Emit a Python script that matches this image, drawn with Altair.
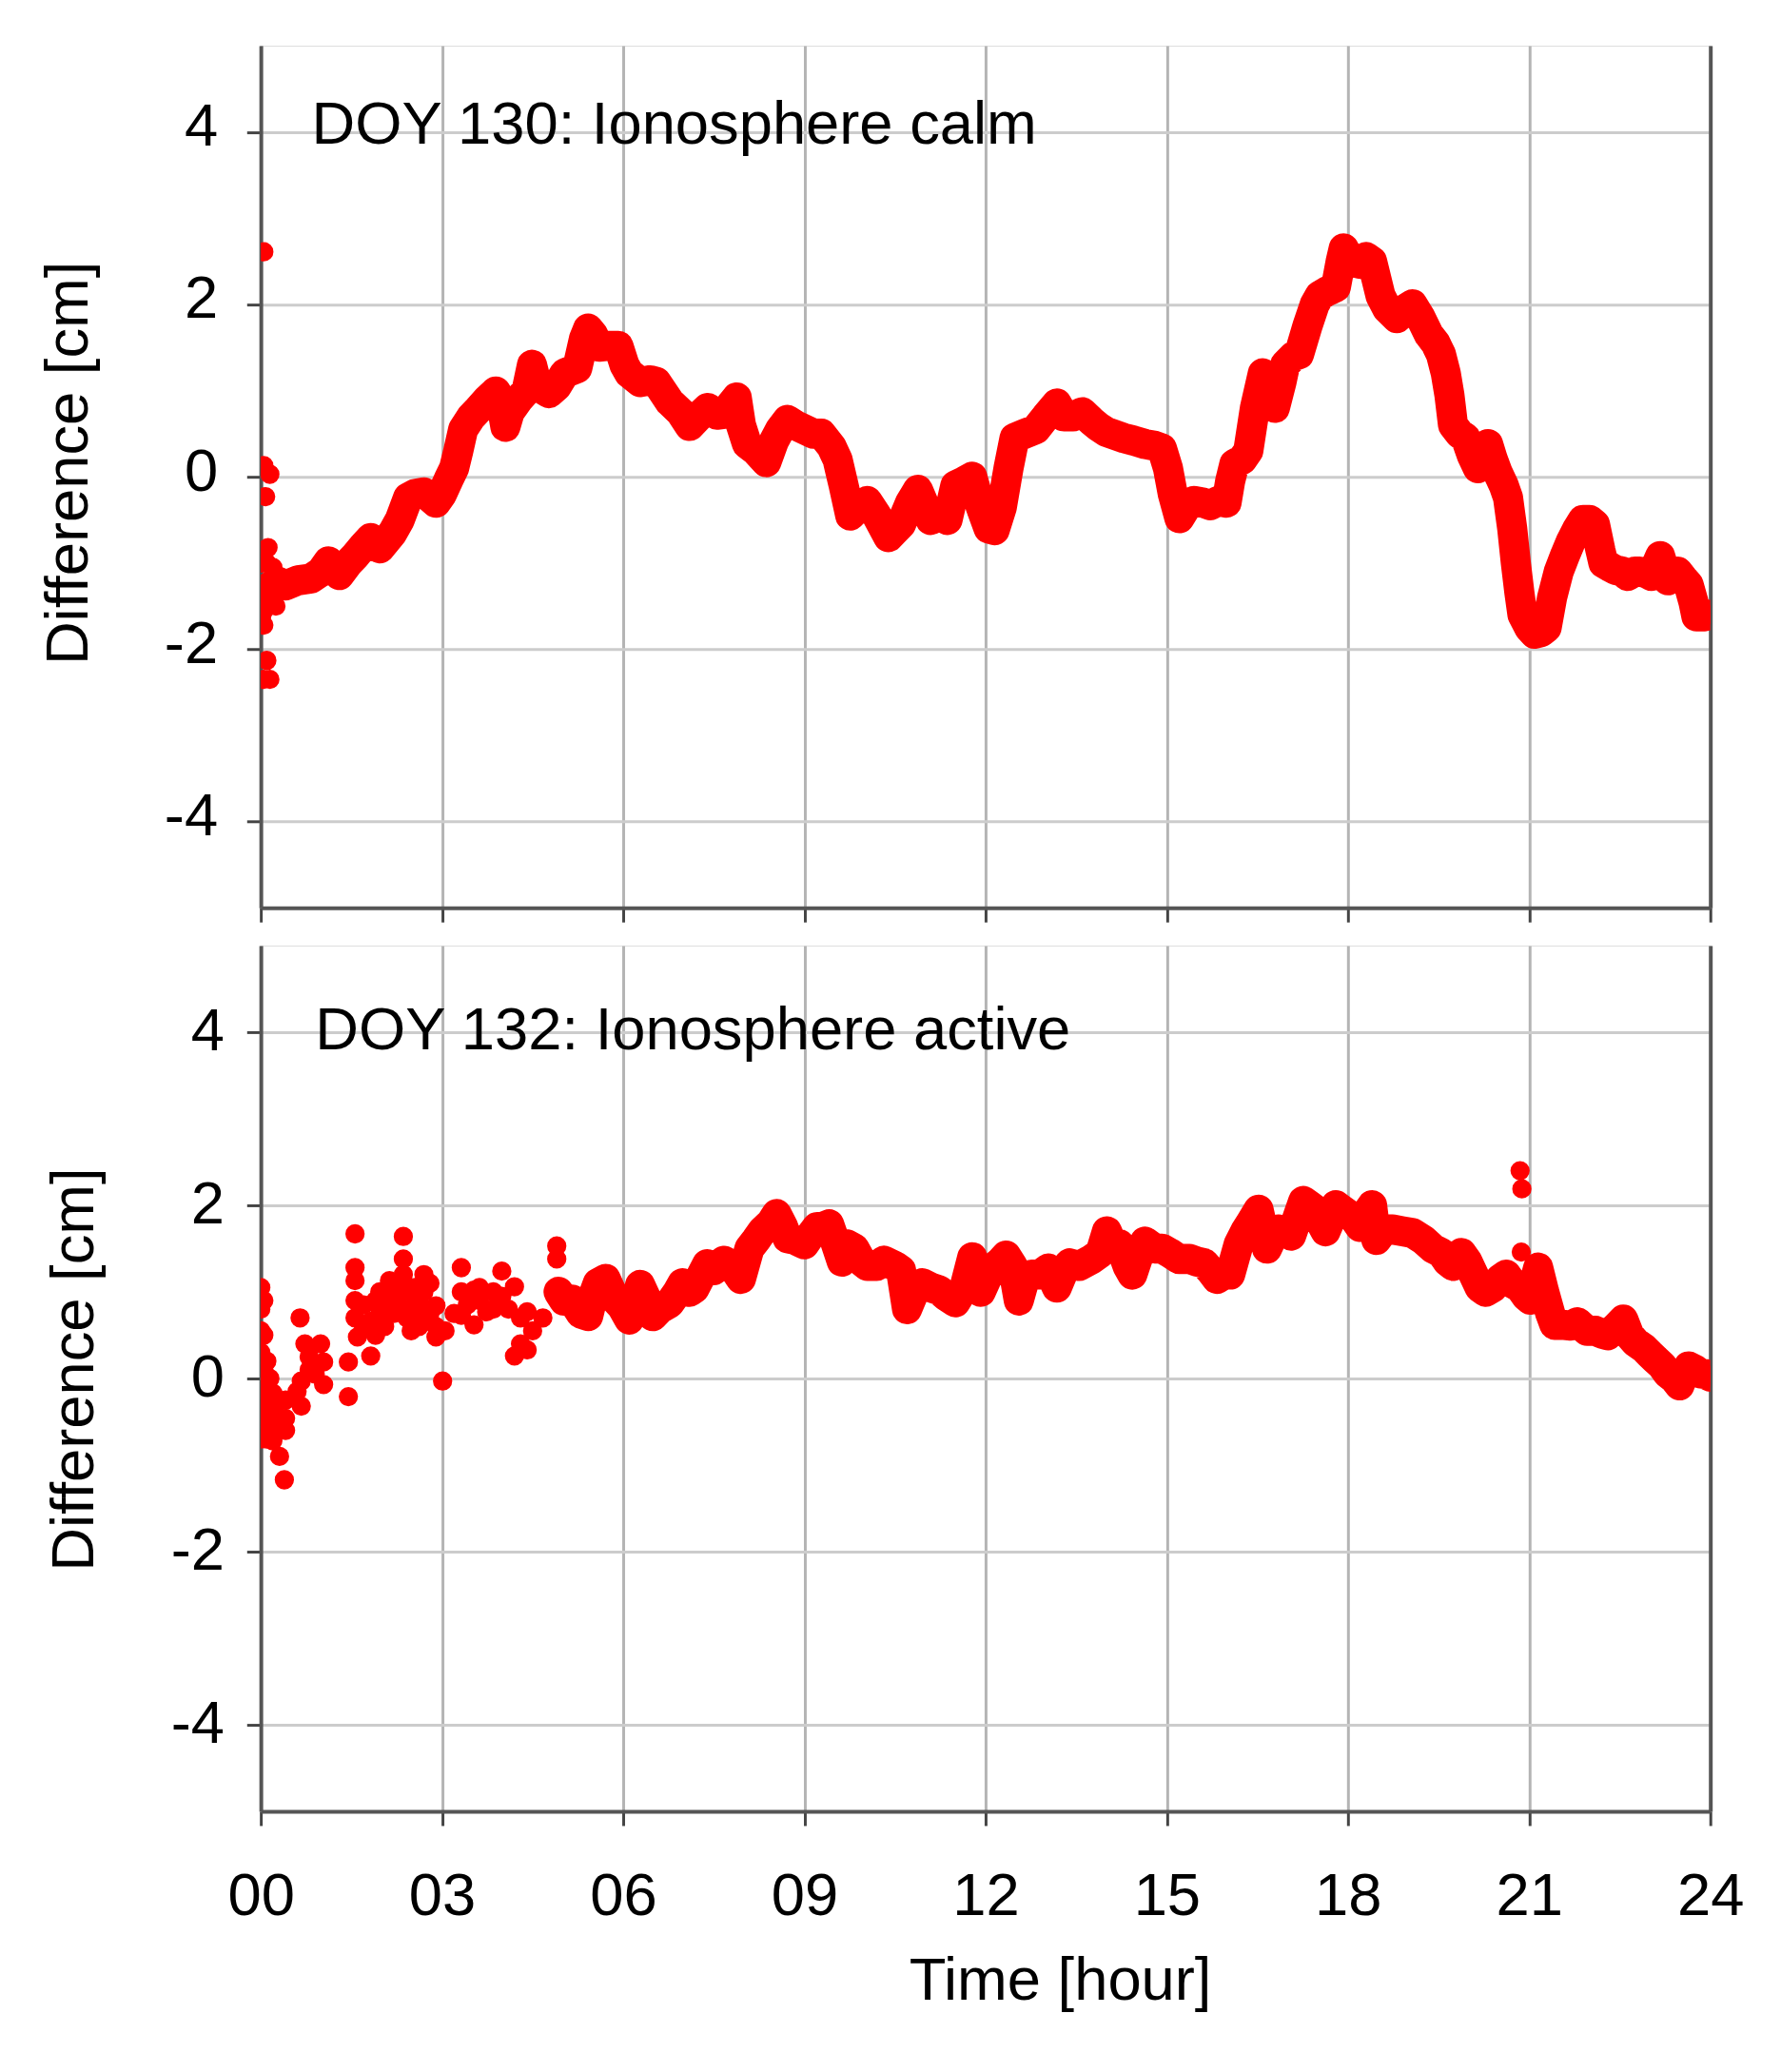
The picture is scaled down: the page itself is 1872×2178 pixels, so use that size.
import altair as alt
import pandas as pd

FONT = "Liberation Sans, Arial, sans-serif"
RED = "#ff0000"

X_TICKS = [0, 3, 6, 9, 12, 15, 18, 21, 24]
Y_TICKS = [-4, -2, 0, 2, 4]

# ---------------- DOY 130 (calm) ----------------
TOP_T = [0.0, 0.1, 0.2, 0.3, 0.41, 0.62, 0.83, 1.0, 1.12, 1.3, 1.45, 1.56, 1.7, 1.82, 1.97,
         2.18, 2.3, 2.44, 2.55, 2.7, 2.9, 3.0, 3.11, 3.2, 3.27, 3.35, 3.48, 3.6, 3.74, 3.89,
         3.97, 4.05, 4.12, 4.26, 4.4, 4.49, 4.58, 4.77, 4.9, 5.03, 5.24, 5.35, 5.42, 5.5, 5.6,
         5.75, 5.92, 6.02, 6.1, 6.28, 6.45, 6.55, 6.77, 6.95, 7.1, 7.25, 7.4, 7.55, 7.67, 7.8,
         7.88, 7.95, 8.05, 8.2, 8.37, 8.5, 8.6, 8.72, 8.85, 9.0, 9.15, 9.28, 9.45, 9.55, 9.65,
         9.76, 9.9, 10.04, 10.2, 10.39, 10.5, 10.6, 10.75, 10.88, 11.0, 11.09, 11.25, 11.37,
         11.5, 11.65, 11.78, 11.92, 12.05, 12.15, 12.27, 12.38, 12.48, 12.65, 12.83, 13.0,
         13.18, 13.3, 13.45, 13.6, 13.75, 13.87, 14.0, 14.29, 14.45, 14.64, 14.8, 14.92, 15.02,
         15.1, 15.21, 15.35, 15.45, 15.6, 15.72, 15.85, 15.99, 16.05, 16.12, 16.25, 16.35,
         16.46, 16.59, 16.7, 16.79, 16.9, 16.96, 17.1, 17.19, 17.33, 17.45, 17.53, 17.65, 17.8,
         17.88, 17.93, 18.05, 18.2, 18.3, 18.4, 18.54, 18.65, 18.81, 18.95, 19.07, 19.2, 19.34,
         19.45, 19.54, 19.62, 19.68, 19.74, 19.85, 19.95, 20.05, 20.15, 20.25, 20.32, 20.4,
         20.48, 20.58, 20.65, 20.72, 20.78, 20.84, 20.89, 21.0, 21.09, 21.2, 21.29, 21.38,
         21.49, 21.6, 21.69, 21.8, 21.89, 22.0, 22.09, 22.18, 22.23, 22.35, 22.43, 22.55, 22.63,
         22.75, 22.83, 22.95, 23.03, 23.12, 23.17, 23.25, 23.3, 23.4, 23.46, 23.55, 23.64,
         23.72, 23.77, 23.88, 24.0]
TOP_V = [-1.35, -1.3, -1.25, -1.22, -1.26, -1.2, -1.18, -1.1, -0.98, -1.14, -1.0, -0.92, -0.8,
         -0.71, -0.83, -0.65, -0.5, -0.24, -0.2, -0.18, -0.3, -0.2, -0.03, 0.1, 0.3, 0.55, 0.69,
         0.78, 0.89, 0.99, 0.9, 0.58, 0.75, 0.89, 1.0, 1.3, 1.05, 0.97, 1.05, 1.2, 1.26, 1.6,
         1.72, 1.65, 1.51, 1.52, 1.52, 1.3, 1.2, 1.1, 1.12, 1.1, 0.87, 0.75, 0.59, 0.7, 0.8,
         0.72, 0.73, 0.85, 0.92, 0.6, 0.38, 0.3, 0.17, 0.42, 0.55, 0.66, 0.6, 0.55, 0.5, 0.5,
         0.35, 0.2, -0.1, -0.45, -0.35, -0.28, -0.45, -0.7, -0.62, -0.55, -0.3, -0.15, -0.35,
         -0.5, -0.45, -0.5, -0.1, -0.05, 0.0, -0.35, -0.6, -0.62, -0.35, 0.1, 0.45, 0.5, 0.55,
         0.7, 0.85, 0.7, 0.7, 0.75, 0.65, 0.58, 0.52, 0.45, 0.42, 0.38, 0.36, 0.33, 0.1, -0.2,
         -0.48, -0.32, -0.28, -0.3, -0.33, -0.28, -0.3, -0.05, 0.15, 0.2, 0.3, 0.8, 1.2, 1.05,
         0.8, 1.1, 1.3, 1.4, 1.42, 1.75, 2.0, 2.1, 2.15, 2.2, 2.5, 2.65, 2.5, 2.47, 2.55, 2.5,
         2.1, 1.95, 1.84, 1.95, 2.0, 1.85, 1.65, 1.55, 1.42, 1.2, 0.95, 0.6, 0.5, 0.45, 0.25,
         0.1, 0.25, 0.38, 0.2, 0.05, -0.1, -0.24, -0.6, -1.0, -1.35, -1.6, -1.75, -1.82, -1.8,
         -1.75, -1.4, -1.1, -0.9, -0.75, -0.6, -0.5, -0.5, -0.55, -0.85, -1.0, -1.05, -1.08,
         -1.1, -1.15, -1.1, -1.1, -1.12, -1.15, -1.0, -0.92, -1.1, -1.2, -1.12, -1.1, -1.18,
         -1.25, -1.45, -1.62, -1.62, -1.6]
TOP_SC_T = [0.05, 0.05, 0.15, 0.08, 0.12, 0.1, 0.15, 0.05, 0.05, 0.02, 0.02, 0.0, 0.05, 0.1,
            0.2, 0.25]
TOP_SC_V = [2.61, 0.13, 0.03, -0.23, -0.82, -2.13, -2.35, -2.35, -1.72, -1.6, -1.0, -1.7,
            -1.55, -1.0, -1.05, -1.5]

# ---------------- DOY 132 (active) ----------------
BOT_T = [4.93, 5.02, 5.15, 5.3, 5.42, 5.5, 5.58, 5.71, 5.86, 5.98, 6.1, 6.2, 6.28, 6.4, 6.49,
         6.6, 6.77, 6.9, 6.98, 7.1, 7.18, 7.3, 7.39, 7.5, 7.67, 7.8, 7.95, 8.09, 8.2, 8.3, 8.45,
         8.54, 8.65, 8.72, 8.85, 9.0, 9.1, 9.21, 9.3, 9.41, 9.5, 9.62, 9.7, 9.83, 9.95, 10.04,
         10.2, 10.32, 10.5, 10.6, 10.7, 10.82, 10.95, 11.1, 11.23, 11.35, 11.5, 11.65, 11.78,
         11.92, 12.05, 12.13, 12.25, 12.34, 12.45, 12.55, 12.65, 12.76, 12.9, 13.04, 13.18,
         13.3, 13.39, 13.55, 13.74, 13.9, 14.01, 14.1, 14.22, 14.35, 14.43, 14.55, 14.64, 14.8,
         14.92, 15.05, 15.2, 15.38, 15.5, 15.62, 15.72, 15.83, 15.95, 16.05, 16.19, 16.3,
         16.39, 16.52, 16.6, 16.66, 16.76, 16.86, 16.96, 17.06, 17.16, 17.26, 17.36, 17.46,
         17.55, 17.63, 17.72, 17.8, 17.9, 18.0, 18.1, 18.2, 18.3, 18.4, 18.47, 18.6, 18.74,
         18.9, 19.07, 19.25, 19.41, 19.55, 19.65, 19.74, 19.88, 19.98, 20.08, 20.18, 20.28,
         20.4, 20.52, 20.62, 20.72, 20.85, 20.95, 21.02, 21.1, 21.15, 21.25, 21.35, 21.42,
         21.55, 21.69, 21.8, 21.96, 22.1, 22.2, 22.3, 22.45, 22.56, 22.66, 22.76, 22.9, 23.0,
         23.09, 23.2, 23.29, 23.4, 23.49, 23.56, 23.64, 23.75, 23.83, 23.92, 24.0]
BOT_V = [1.0, 0.9, 0.91, 0.75, 0.72, 0.95, 1.1, 1.15, 0.92, 0.83, 0.68, 0.85, 1.08, 0.9, 0.72,
         0.8, 0.87, 1.0, 1.1, 1.0, 1.04, 1.2, 1.32, 1.25, 1.36, 1.3, 1.15, 1.5, 1.6, 1.7, 1.8,
         1.9, 1.75, 1.62, 1.6, 1.55, 1.65, 1.75, 1.75, 1.78, 1.6, 1.35, 1.55, 1.5, 1.35, 1.3,
         1.3, 1.36, 1.3, 1.25, 0.8, 1.0, 1.1, 1.05, 1.02, 0.95, 0.88, 1.05, 1.4, 1.0, 1.2, 1.28,
         1.35, 1.42, 1.3, 0.9, 1.15, 1.2, 1.2, 1.27, 1.05, 1.25, 1.33, 1.3, 1.37, 1.45, 1.7,
         1.55, 1.55, 1.3, 1.2, 1.45, 1.58, 1.5, 1.5, 1.45, 1.38, 1.38, 1.35, 1.33, 1.25, 1.15,
         1.2, 1.2, 1.55, 1.7, 1.8, 1.95, 1.7, 1.5, 1.65, 1.72, 1.7, 1.65, 1.85, 2.05, 2.0, 1.95,
         1.8, 1.7, 1.85, 2.0, 1.95, 1.9, 1.85, 1.75, 1.9, 2.0, 1.6, 1.72, 1.72, 1.7, 1.68, 1.6,
         1.5, 1.45, 1.35, 1.3, 1.45, 1.35, 1.2, 1.05, 1.0, 1.05, 1.15, 1.2, 1.1, 1.05, 0.95,
         0.91, 1.15, 1.28, 1.0, 0.75, 0.62, 0.62, 0.61, 0.65, 0.55, 0.55, 0.52, 0.5, 0.6, 0.68,
         0.5, 0.42, 0.35, 0.28, 0.22, 0.15, 0.06, 0.0, -0.08, 0.05, 0.14, 0.1, 0.06, 0.05, 0.02]
BOT_SC_T = [0.0, 0.0, 0.0, 0.0, 0.0, 0.0, 0.0, 0.0, 0.05, 0.05, 0.05, 0.05, 0.05, 0.1, 0.1,
            0.1, 0.1, 0.15, 0.15, 0.15, 0.2, 0.2, 0.2, 0.25, 0.25, 0.31, 0.31, 0.39, 0.41,
            0.41, 0.41, 0.6, 0.65, 0.67, 0.67, 0.73, 0.8, 0.8, 0.9, 0.99, 1.04, 1.04, 1.45,
            1.45, 1.56, 1.56, 1.56, 1.56, 1.56, 1.6, 1.7, 1.7, 1.82, 1.82, 1.9, 1.9, 1.97,
            1.97, 1.97, 2.05, 2.05, 2.13, 2.13, 2.2, 2.2, 2.28, 2.28, 2.36, 2.36, 2.36, 2.42,
            2.42, 2.49, 2.49, 2.55, 2.55, 2.62, 2.62, 2.7, 2.7, 2.7, 2.8, 2.8, 2.9, 2.9, 2.9,
            3.01, 3.05, 3.2, 3.32, 3.32, 3.32, 3.42, 3.53, 3.53, 3.62, 3.62, 3.74, 3.85, 3.85,
            3.99, 3.99, 4.1, 4.2, 4.2, 4.3, 4.3, 4.41, 4.41, 4.5, 4.67, 4.9, 4.9,
            20.85, 20.88, 20.87]
BOT_SC_V = [1.05, 0.8, 0.55, 0.3, 0.05, -0.2, -0.45, -0.7, 0.9, 0.5, 0.1, -0.3, -0.6, 0.2,
            -0.1, -0.4, -0.7, 0.0, -0.3, -0.6, -0.17, -0.45, -0.72, -0.3, -0.6, -0.9, -0.5,
            -1.17, -0.6, -0.46, -0.25, -0.15, 0.7, -0.03, -0.32, 0.4, 0.1, 0.25, 0.05, 0.4,
            0.19, -0.07, -0.21, 0.19, 1.67, 1.28, 1.13, 0.9, 0.7, 0.48, 0.6, 0.85, 0.26, 0.66,
            0.9, 0.5, 1.0, 0.8, 0.66, 0.95, 0.6, 1.13, 0.9, 1.0, 0.75, 0.84, 1.1, 1.64, 1.38,
            1.2, 1.0, 0.7, 0.55, 0.8, 1.05, 0.65, 0.9, 0.6, 1.2, 0.7, 1.0, 1.1, 0.75, 0.84,
            0.48, 0.6, -0.03, 0.55, 0.75, 1.28, 0.73, 1.0, 0.85, 1.02, 0.62, 0.9, 1.05, 0.77,
            0.8, 1.0, 1.24, 0.95, 0.8, 1.06, 0.26, 0.4, 0.7, 0.77, 0.33, 0.55, 0.7, 1.53, 1.38,
            2.4, 2.19, 1.46]

LABELS = ["DOY 130: Ionosphere calm", "DOY 132: Ionosphere active"]
LABEL_T = [0.84, 0.9]
LABEL_V = [3.86, 3.8]

W = 1540
xscale = alt.Scale(domain=[0, 24], nice=False, zero=False)
yscale = alt.Scale(domain=[-5, 5], nice=False, zero=False)

common_axis = dict(labelFont=FONT, titleFont=FONT, labelFontSize=64, titleFontSize=64,
                   labelColor="black", titleColor="black", titleFontWeight="normal",
                   domainColor="#555555", domainWidth=4, tickColor="#444444",
                   tickWidth=3, tickSize=15)


def panel(mt, mv, st, sv, label, lt, lv, height, bottom, lab_pad, lab_off, tit_x, tit_y):
    df = pd.DataFrame({"t": mt + st, "v": mv + sv,
                       "kind": ["main"] * len(mt) + ["scatter"] * len(st)})
    if bottom:
        xaxis = alt.Axis(values=X_TICKS, grid=True, gridColor="#b4b4b4", gridWidth=3,
                         labelExpr="datum.value < 10 ? '0' + datum.value : '' + datum.value",
                         labelBaseline="alphabetic", labelPadding=95, labelFlush=False,
                         title="Time [hour]", titleX=849, titleY=200, titleAlign="center",
                         titleBaseline="alphabetic", **common_axis)
    else:
        xaxis = alt.Axis(values=X_TICKS, grid=True, gridColor="#b4b4b4", gridWidth=3,
                         labels=False, title=None, **common_axis)
    yaxis = alt.Axis(values=Y_TICKS, grid=True, gridColor="#cccccc", gridWidth=3,
                     labelExpr="'' + datum.value", labelPadding=lab_pad, labelOffset=lab_off,
                     labelBaseline="middle",
                     title="Difference [cm]", titleAngle=270, titleX=tit_x, titleY=tit_y,
                     titleAlign="center", titleBaseline="alphabetic", **common_axis)
    yright = alt.Axis(orient="right", values=Y_TICKS, grid=False, labels=False, ticks=False,
                      title=None, domainColor="#555555", domainWidth=4)
    X = alt.X("t:Q", scale=xscale, axis=xaxis)
    base = alt.Chart(df)
    line = base.transform_filter("datum.kind == 'main'").mark_line(
        color=RED, strokeWidth=32, strokeCap="round", strokeJoin="round", clip=True
    ).encode(x=X, y=alt.Y("v:Q", scale=yscale, axis=yaxis))
    dots = base.mark_circle(color=RED, size=420, opacity=1, clip=True).encode(
        x=X, y=alt.Y("v:Q", scale=yscale, axis=yright))
    txt = alt.Chart(pd.DataFrame({"t": [lt], "v": [lv], "label": [label]})).mark_text(
        align="left", baseline="alphabetic", fontSize=64, font=FONT, color="black"
    ).encode(x=alt.X("t:Q", scale=xscale, axis=xaxis),
             y=alt.Y("v:Q", scale=yscale, axis=None), text="label:N")
    return alt.layer(line, dots, txt).resolve_axis(y="independent").properties(
        width=W, height=height)


top = panel(TOP_T, TOP_V, TOP_SC_T, TOP_SC_V, LABELS[0], LABEL_T[0], LABEL_V[0],
            916, False, 31, -5, -185, 443)
bot = panel(BOT_T, BOT_V, BOT_SC_T, BOT_SC_V, LABELS[1], LABEL_T[1], LABEL_V[1],
            920, True, 24, 0, -179, 450)

chart = alt.vconcat(top, bot, spacing=22).properties(
    padding={"left": 32, "top": 28, "right": 30, "bottom": 20}
).configure_view(stroke="#9a9a9a", strokeWidth=3).configure(background="white")

chart.save("out.html", embed_options={"renderer": "svg", "actions": False})
